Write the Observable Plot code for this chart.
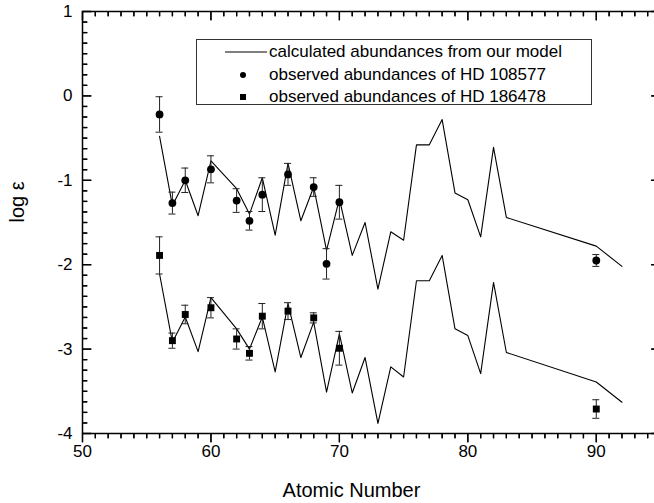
<!DOCTYPE html>
<html>
<head>
<meta charset="utf-8">
<script src="https://cdn.jsdelivr.net/npm/d3@7"></script>
<script src="https://cdn.jsdelivr.net/npm/@observablehq/plot@0.6"></script>
<style>
html, body { margin: 0; padding: 0; overflow: hidden; background: #fff; width: 654px; height: 503px; }
#wrap { position: relative; width: 654px; height: 503px; overflow: hidden; }
#wrap > svg { max-width: none !important; }
#legend { position: absolute; left: 196px; top: 39px; width: 394px; height: 64px; border: 1.5px solid #333; background: #fff;
  font-family: "Liberation Sans", Arial, sans-serif; font-size: 17px; color: #000; }
#legend .row { position: absolute; left: 0; height: 22px; line-height: 22px; white-space: nowrap; }
#legend .smp { position: absolute; left: 26px; top: 0; }
#legend span { position: absolute; left: 72px; top: 0; }
</style>
</head>
<body>
<div id="wrap"></div>
<script>
// ---- data ----
const modelZ = [56,57,58,59,60,62,63,64,65,66,67,68,69,70,71,72,73,74,75,76,77,78,79,80,81,82,83,90,92];
const model108577 = [-0.48,-1.30,-1.00,-1.42,-0.77,-1.10,-1.40,-0.97,-1.65,-0.80,-1.48,-1.08,-1.83,-1.22,-1.89,-1.50,-2.29,-1.61,-1.71,-0.58,-0.58,-0.28,-1.15,-1.23,-1.67,-0.61,-1.44,-1.78,-2.02];
const model186478 = [-2.11,-2.92,-2.62,-3.03,-2.39,-2.76,-3.00,-2.62,-3.27,-2.46,-3.10,-2.68,-3.51,-2.82,-3.52,-3.10,-3.88,-3.21,-3.33,-2.19,-2.19,-1.89,-2.76,-2.84,-3.29,-2.21,-3.04,-3.39,-3.63];

const obsZ108577 = [56,57,58,60,62,63,64,66,68,69,70,90];
const obs108577 = [-0.22,-1.27,-1.00,-0.87,-1.24,-1.48,-1.17,-0.93,-1.08,-1.99,-1.26,-1.95];
const err108577 = [0.21,0.13,0.145,0.16,0.14,0.11,0.20,0.13,0.11,0.18,0.20,0.07];

const obsZ186478 = [56,57,58,60,62,63,64,66,68,70,90];
const obs186478 = [-1.89,-2.90,-2.59,-2.51,-2.88,-3.05,-2.61,-2.55,-2.63,-2.99,-3.71];
const err186478 = [0.22,0.09,0.11,0.12,0.12,0.08,0.15,0.10,0.06,0.20,0.11];

const xMajor = [50,60,70,80,90];
const xMinor = d3.range(51, 95, 1).filter(d => d % 10 !== 0);
const yMajor = [-4,-3,-2,-1,0,1];
const yMinor = d3.range(-4, 1.0001, 0.125).filter(d => !Number.isInteger(d));

const legendLabels = ["calculated abundances from our model", "observed abundances of HD 108577", "observed abundances of HD 186478"];
const xTitle = "Atomic Number";
const yTitle = "log \u03b5";

// ---- tables ----
const modelRows = [
  ...modelZ.map((z, i) => ({z, v: model108577[i], s: "a"})),
  ...modelZ.map((z, i) => ({z, v: model186478[i], s: "b"}))
];
const obsA = obsZ108577.map((z, i) => ({z, v: obs108577[i], e: err108577[i]}));
const obsB = obsZ186478.map((z, i) => ({z, v: obs186478[i], e: err186478[i]}));
const obsAll = [...obsA, ...obsB];

const font = '"Liberation Sans", Arial, sans-serif';
const X0 = 50, X1 = 95, Y0 = -4, Y1 = 1;

// tick-shaped symbols (length = r)
const tickDown  = {draw(ctx, size) { const l = Math.sqrt(size / Math.PI); ctx.moveTo(0, 0); ctx.lineTo(0, l); }};
const tickRight = {draw(ctx, size) { const l = Math.sqrt(size / Math.PI); ctx.moveTo(0, 0); ctx.lineTo(l, 0); }};
const tickLeft  = {draw(ctx, size) { const l = Math.sqrt(size / Math.PI); ctx.moveTo(0, 0); ctx.lineTo(-l, 0); }};
const tk = {fill: "none", stroke: "#000", strokeWidth: 1.3};
const rk = {stroke: "#000", strokeWidth: 1.3};

const chart = Plot.plot({
  width: 662,
  height: 503,
  marginLeft: 82,
  marginRight: 2,
  marginTop: 11,
  marginBottom: 70,
  style: {fontFamily: font, fontSize: "17px", color: "#000", background: "#fff", maxWidth: "none"},
  x: {domain: [X0, X1], label: null},
  y: {domain: [Y0, Y1], label: null},
  marks: [
    // model lines
    Plot.line(modelRows, {x: "z", y: "v", z: "s", stroke: "#000", strokeWidth: 1.1}),
    // error bars
    Plot.ruleX(obsAll, {x: "z", y1: d => d.v - d.e, y2: d => d.v + d.e, stroke: "#222", strokeWidth: 1}),
    Plot.ruleY(obsAll, {y: d => d.v + d.e, x1: "z", x2: "z", insetLeft: -3.5, insetRight: -3.5, stroke: "#222", strokeWidth: 1}),
    Plot.ruleY(obsAll, {y: d => d.v - d.e, x1: "z", x2: "z", insetLeft: -3.5, insetRight: -3.5, stroke: "#222", strokeWidth: 1}),
    // observed points
    Plot.dot(obsA, {x: "z", y: "v", r: 3.9, fill: "#000", stroke: "none", symbol: "circle"}),
    Plot.dot(obsB, {x: "z", y: "v", r: 3.9, fill: "#000", stroke: "none", symbol: "square"}),
    // frame
    Plot.frame({stroke: "#000", strokeWidth: 1.5}),
    // ticks as rules
    Plot.ruleX(xMinor, {x: d => d, y1: Y0, y2: Y0, insetBottom: -5, ...rk}),
    Plot.ruleX(xMajor, {x: d => d, y1: Y0, y2: Y0, insetBottom: -9, ...rk}),
    Plot.ruleX(xMinor, {x: d => d, y1: Y1, y2: Y1, insetBottom: -5, ...rk}),
    Plot.ruleX(xMajor, {x: d => d, y1: Y1, y2: Y1, insetBottom: -9, ...rk}),
    Plot.ruleY(yMinor, {y: d => d, x1: X0, x2: X0, insetRight: -5, ...rk}),
    Plot.ruleY(yMajor, {y: d => d, x1: X0, x2: X0, insetRight: -9, ...rk}),
    Plot.ruleY(yMinor, {y: d => d, x1: X1, x2: X1, insetLeft: -5, ...rk}),
    Plot.ruleY(yMajor, {y: d => d, x1: X1, x2: X1, insetLeft: -9, ...rk}),
    // the same ticks as tick-shaped symbols
    Plot.dot(xMinor, {x: d => d, y: Y0, r: 5, symbol: tickDown, ...tk}),
    Plot.dot(xMajor, {x: d => d, y: Y0, r: 9, symbol: tickDown, ...tk}),
    Plot.dot(xMinor, {x: d => d, y: Y1, r: 5, symbol: tickDown, ...tk}),
    Plot.dot(xMajor, {x: d => d, y: Y1, r: 9, symbol: tickDown, ...tk}),
    Plot.dot(yMinor, {y: d => d, x: X0, r: 5, symbol: tickRight, ...tk}),
    Plot.dot(yMajor, {y: d => d, x: X0, r: 9, symbol: tickRight, ...tk}),
    Plot.dot(yMinor, {y: d => d, x: X1, r: 5, symbol: tickLeft, ...tk}),
    Plot.dot(yMajor, {y: d => d, x: X1, r: 9, symbol: tickLeft, ...tk}),
    // tick labels
    Plot.axisX({anchor: "bottom", ticks: xMajor, tickSize: 0, tickPadding: 11, tickFormat: d => String(d), label: null, fontSize: 17}),
    Plot.axisY({anchor: "left", ticks: yMajor, tickSize: 0, tickPadding: 10, tickFormat: d => String(d), label: null, fontSize: 17}),
    // axis titles
    Plot.text([xTitle], {text: d => d, frameAnchor: "bottom", dy: 57, dx: -20, fontSize: 20, lineAnchor: "middle"}),
    Plot.text([yTitle], {text: d => d, frameAnchor: "left", dx: -65, rotate: -90, fontSize: 20, lineAnchor: "middle"})
  ]
});

const wrap = document.getElementById("wrap");
wrap.appendChild(chart);

// legend (inside the plot area)
const legend = document.createElement("div");
legend.id = "legend";
const rowsTop = [1, 24, 46];
legendLabels.forEach((label, i) => {
  const row = document.createElement("div");
  row.className = "row";
  row.style.top = rowsTop[i] + "px";
  row.style.width = "394px";
  let sample = "";
  if (i === 0) sample = '<svg class="smp" width="44" height="22"><line x1="2" x2="44" y1="11" y2="11" stroke="#000" stroke-width="1"/></svg>';
  else if (i === 1) sample = '<svg class="smp" width="44" height="22"><circle cx="20" cy="11" r="3" fill="#000"/></svg>';
  else sample = '<svg class="smp" width="44" height="22"><rect x="17" y="8" width="6" height="6" fill="#000"/></svg>';
  row.innerHTML = sample + "<span>" + label + "</span>";
  legend.appendChild(row);
});
wrap.appendChild(legend);
</script>
</body>
</html>
